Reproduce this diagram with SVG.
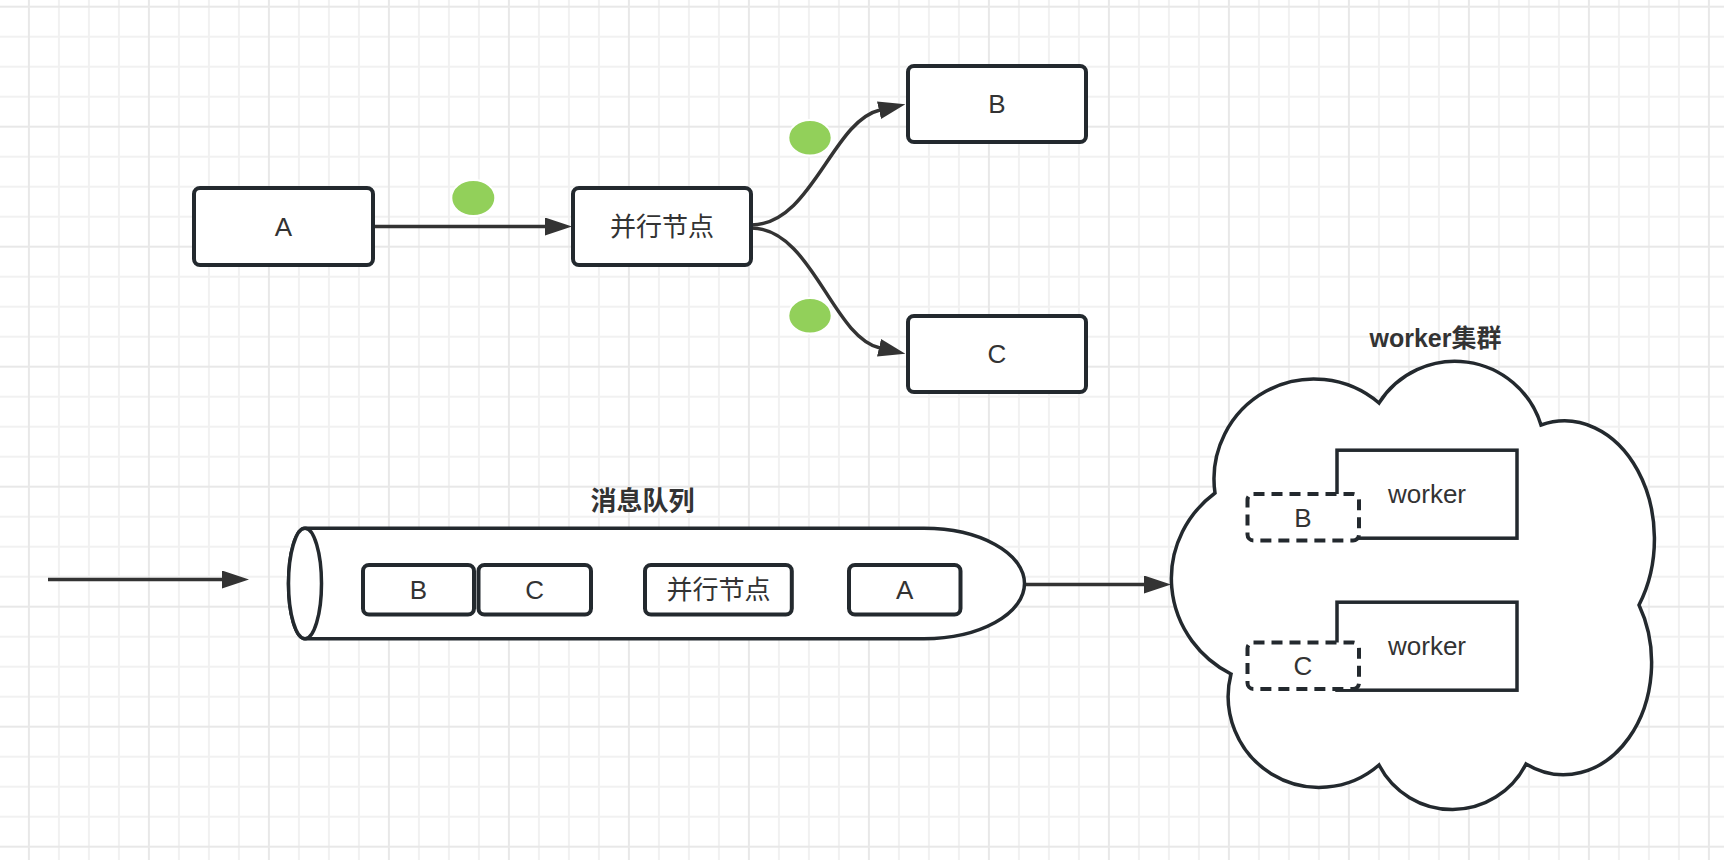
<svg xmlns="http://www.w3.org/2000/svg" width="1724" height="860" viewBox="0 0 1724 860">
<style>
.box{fill:#fff;stroke:#23292e;stroke-width:4}
.plain{fill:#fff;stroke:#23292e;stroke-width:3.5}
.dash{fill:#fff;stroke:#23292e;stroke-width:4;stroke-dasharray:11 7}
.lbl{font-family:"Liberation Sans","Noto Sans CJK SC",sans-serif;font-size:26px;fill:#333;text-anchor:middle;dominant-baseline:central}
.ttl{font-weight:bold}
.edge{fill:none;stroke:#333;stroke-width:3.5}
.dot{fill:#92d05a;stroke:#fff;stroke-width:2}
</style>
<defs>
<pattern id="grid" patternUnits="userSpaceOnUse" x="27.9" y="5.7" width="120" height="120">
<rect x="30" y="0" width="2" height="120" fill="#f1f1f1"/>
<rect x="60" y="0" width="2" height="120" fill="#f1f1f1"/>
<rect x="90" y="0" width="2" height="120" fill="#f1f1f1"/>
<rect x="0" y="30" width="120" height="2" fill="#f1f1f1"/>
<rect x="0" y="60" width="120" height="2" fill="#f1f1f1"/>
<rect x="0" y="90" width="120" height="2" fill="#f1f1f1"/>
<rect x="0" y="0" width="2" height="120" fill="#e8e8e8"/>
<rect x="0" y="0" width="120" height="2" fill="#e8e8e8"/>
</pattern>
<marker id="arrow" markerUnits="userSpaceOnUse" markerWidth="27" markerHeight="18" viewBox="0 0 27 18" refX="1" refY="9" orient="auto">
<path d="M0,0 L27,9 L0,18 Z" fill="#333"/>
</marker>
</defs>
<rect width="1724" height="860" fill="#fff"/>
<rect width="1724" height="860" fill="url(#grid)"/>

<g id="connectors">
<path class="edge" d="M374 226.5 H546" marker-end="url(#arrow)"/>
<path class="edge" d="M751 225 C812 225 832 121 880 110" marker-end="url(#arrow)"/>
<path class="edge" d="M751 228 C812 228 832 337 880 348" marker-end="url(#arrow)"/>
<path class="edge" d="M48 579.5 H223" marker-end="url(#arrow)"/>
<path class="edge" d="M1025 584.5 H1145" marker-end="url(#arrow)"/>
</g>

<g id="token-1"><ellipse class="dot" cx="473.3" cy="198" rx="22" ry="18"/></g>
<g id="token-2"><ellipse class="dot" cx="810" cy="137.7" rx="21.7" ry="17.7"/></g>
<g id="token-3"><ellipse class="dot" cx="810" cy="315.7" rx="21.7" ry="17.7"/></g>

<g id="node-A">
<rect class="box" x="194" y="188" width="179" height="77" rx="6"/>
<text class="lbl" x="283.5" y="226.5">A</text>
</g>
<g id="node-parallel">
<rect class="box" x="573" y="188" width="178" height="77" rx="6"/>
<text class="lbl" x="662" y="226.5">并行节点</text>
</g>
<g id="node-B">
<rect class="box" x="908" y="66" width="178" height="76" rx="6"/>
<text class="lbl" x="997" y="104">B</text>
</g>
<g id="node-C">
<rect class="box" x="908" y="316" width="178" height="76" rx="6"/>
<text class="lbl" x="997" y="354">C</text>
</g>

<g id="node-queue">
<text class="lbl ttl" x="642.5" y="500.5">消息队列</text>
<path class="plain" d="M305 528.3 H924 A100.5 55.2 0 0 1 924 638.7 H305 A16.5 55.2 0 0 1 305 528.3 Z"/>
<ellipse class="plain" cx="305" cy="583.5" rx="16.5" ry="55.2"/>
</g>
<g id="queue-B">
<rect class="box" x="363" y="565" width="111" height="49.5" rx="6"/>
<text class="lbl" x="418.5" y="590">B</text>
</g>
<g id="queue-C">
<rect class="box" x="478.5" y="565" width="112.5" height="49.5" rx="6"/>
<text class="lbl" x="534.7" y="590">C</text>
</g>
<g id="queue-parallel">
<rect class="box" x="645" y="565" width="146.8" height="49.5" rx="6"/>
<text class="lbl" x="718.4" y="590">并行节点</text>
</g>
<g id="queue-A">
<rect class="box" x="849" y="565" width="111.5" height="49.5" rx="6"/>
<text class="lbl" x="904.7" y="590">A</text>
</g>

<g id="node-cluster">
<text class="lbl ttl" x="1435.5" y="338" style="font-size:25px">worker集群</text>
<path class="plain" d="M1215 493 A100 100 0 0 1 1379 403 A90 90 0 0 1 1541 425 A90 118 0 0 1 1639 605 A88 112 0 0 1 1526 764 A82.5 82.5 0 0 1 1379 765 A91 91 0 0 1 1231 674 A112 108 0 0 1 1215 493 Z"/>
</g>
<g id="worker-1">
<rect class="plain" x="1337" y="450.2" width="180" height="88"/>
<text class="lbl" x="1427" y="494">worker</text>
</g>
<g id="worker-1-task">
<rect class="dash" x="1247.5" y="494" width="111.5" height="46.5" rx="6"/>
<text class="lbl" x="1303" y="517.5">B</text>
</g>
<g id="worker-2">
<rect class="plain" x="1337" y="602.2" width="180" height="88"/>
<text class="lbl" x="1427" y="646">worker</text>
</g>
<g id="worker-2-task">
<rect class="dash" x="1247.5" y="642.5" width="111.5" height="46.5" rx="6"/>
<text class="lbl" x="1303" y="666">C</text>
</g>
</svg>
